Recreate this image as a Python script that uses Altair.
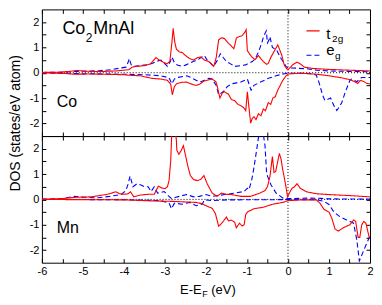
import altair as alt
import pandas as pd

FONT = "Liberation Sans"
W, H = 329, 127

X_TICKS = [-6 + 0.5 * i for i in range(17)]
Y_TICKS = [-2 + 0.5 * i for i in range(9)]

# ---------------- Co panel ----------------
CO_T2G_UP_X = [-6.0, -5.6, -5.35, -5.15, -5.0, -4.8, -4.5, -4.2, -4.0, -3.88, -3.8, -3.7, -3.5, -3.35, -3.22, -3.14, -3.05, -2.95, -2.88, -2.83, -2.8, -2.76, -2.72, -2.65, -2.58, -2.5, -2.4, -2.3, -2.2, -2.12, -2.04, -1.93, -1.81, -1.75, -1.69, -1.62, -1.55, -1.46, -1.38, -1.32, -1.28, -1.26, -1.2, -1.12, -1.05, -1.02, -0.99, -0.94, -0.88, -0.8, -0.72, -0.66, -0.6, -0.52, -0.48, -0.42, -0.37, -0.3, -0.25, -0.2, -0.15, -0.09, -0.03, 0.0, 0.05, 0.12, 0.22, 0.3, 0.4, 0.6, 1.0, 1.5, 2.0]
CO_T2G_UP_Y = [0.01, 0.02, 0.05, 0.09, 0.07, 0.05, 0.05, 0.07, 0.1, 0.12, 0.22, 0.25, 0.28, 0.35, 0.6, 0.5, 0.42, 0.35, 0.45, 1.2, 1.75, 1.2, 0.93, 0.82, 0.8, 0.68, 0.56, 0.5, 0.6, 0.62, 0.5, 0.44, 0.25, 0.6, 1.3, 1.38, 1.35, 1.18, 1.05, 0.95, 1.2, 1.37, 1.42, 1.46, 1.6, 1.7, 0.87, 0.75, 0.62, 0.52, 0.68, 0.55, 0.44, 0.33, 0.37, 0.6, 0.75, 0.95, 1.1, 0.9, 0.68, 0.3, 0.15, 0.12, 0.2, 0.32, 0.42, 0.35, 0.22, 0.17, 0.13, 0.1, 0.07]

CO_T2G_DN_X = [-6.0, -5.5, -5.2, -4.8, -4.5, -4.0, -3.87, -3.6, -3.33, -3.1, -2.94, -2.86, -2.82, -2.77, -2.72, -2.6, -2.47, -2.35, -2.24, -2.15, -2.05, -1.93, -1.85, -1.76, -1.73, -1.66, -1.6, -1.55, -1.45, -1.38, -1.3, -1.22, -1.15, -1.08, -1.03, -0.99, -0.95, -0.91, -0.87, -0.83, -0.78, -0.72, -0.66, -0.6, -0.55, -0.48, -0.42, -0.37, -0.31, -0.25, -0.19, -0.13, -0.06, 0.0, 0.3, 0.7, 1.0, 1.3, 1.5, 1.62, 1.7, 1.76, 1.85, 1.92, 2.0]
CO_T2G_DN_Y = [-0.01, -0.02, -0.06, -0.05, -0.06, -0.08, -0.1, -0.12, -0.22, -0.25, -0.3, -0.45, -0.87, -0.55, -0.44, -0.38, -0.37, -0.45, -0.5, -0.45, -0.33, -0.28, -0.25, -0.35, -0.5, -1.0, -0.8, -0.75, -0.85, -1.06, -1.1, -1.25, -1.3, -1.38, -1.5, -0.75, -1.4, -1.99, -1.8, -1.74, -1.85, -1.62, -1.7, -1.43, -1.5, -1.18, -1.25, -1.0, -0.95, -0.69, -0.5, -0.31, -0.15, -0.05, -0.02, -0.06, -0.12, -0.2, -0.27, -0.35, -0.43, -0.3, -0.35, -0.42, -0.44]

CO_EG_UP_X = [-6.0, -5.5, -5.2, -4.9, -4.6, -4.3, -4.1, -3.95, -3.9, -3.87, -3.82, -3.75, -3.6, -3.45, -3.3, -3.2, -3.1, -3.0, -2.94, -2.88, -2.83, -2.77, -2.7, -2.58, -2.5, -2.4, -2.3, -2.21, -2.12, -2.04, -1.97, -1.9, -1.81, -1.72, -1.65, -1.58, -1.5, -1.4, -1.3, -1.15, -1.03, -0.95, -0.87, -0.8, -0.76, -0.7, -0.64, -0.6, -0.56, -0.53, -0.5, -0.46, -0.44, -0.41, -0.38, -0.33, -0.29, -0.23, -0.17, -0.1, -0.05, 0.0, 0.2, 0.5, 0.7, 1.0, 1.5, 2.0]
CO_EG_UP_Y = [0.01, 0.02, 0.05, 0.06, 0.08, 0.12, 0.18, 0.22, 0.4, 0.56, 0.3, 0.25, 0.28, 0.31, 0.37, 0.45, 0.5, 0.35, 0.25, 0.4, 0.62, 0.4, 0.3, 0.25, 0.3, 0.37, 0.45, 0.5, 0.6, 0.68, 0.5, 0.4, 0.25, 0.5, 0.75, 0.6, 0.44, 0.35, 0.25, 0.28, 0.31, 0.38, 0.44, 0.55, 0.68, 0.9, 1.18, 1.4, 1.55, 1.65, 1.18, 1.3, 1.43, 1.2, 1.0, 0.95, 0.93, 0.75, 0.56, 0.4, 0.25, 0.19, 0.18, 0.15, 0.1, 0.07, 0.05, 0.04]

CO_EG_DN_X = [-6.0, -5.5, -5.0, -4.5, -4.0, -3.5, -3.1, -2.9, -2.83, -2.77, -2.7, -2.47, -2.35, -2.24, -2.15, -2.04, -1.93, -1.85, -1.75, -1.69, -1.58, -1.48, -1.38, -1.25, -1.15, -1.05, -0.99, -0.9, -0.83, -0.76, -0.64, -0.52, -0.4, -0.29, -0.15, -0.05, 0.0, 0.4, 0.6, 0.69, 0.76, 0.84, 0.9, 0.95, 1.04, 1.12, 1.19, 1.25, 1.31, 1.4, 1.51, 1.55, 1.62, 1.68, 1.74, 1.8, 1.9, 2.0]
CO_EG_DN_Y = [-0.01, -0.02, -0.04, -0.05, -0.06, -0.08, -0.12, -0.2, -0.44, -0.25, -0.19, -0.12, -0.2, -0.3, -0.37, -0.3, -0.22, -0.25, -0.5, -0.87, -0.75, -0.55, -0.44, -0.4, -0.37, -0.3, -0.25, -0.69, -0.5, -0.44, -0.35, -0.25, -0.18, -0.12, -0.06, -0.03, -0.02, -0.02, -0.04, -0.1, -0.4, -0.87, -1.1, -1.06, -1.0, -1.3, -1.49, -1.35, -1.19, -0.75, -0.3, -0.25, -0.3, -0.36, -0.25, -0.19, -0.19, -0.19]

# ---------------- Mn panel ----------------
MN_T2G_UP_X = [-6.0, -5.5, -5.2, -5.0, -4.8, -4.6, -4.4, -4.2, -4.1, -4.0, -3.9, -3.84, -3.76, -3.6, -3.4, -3.26, -3.2, -3.16, -3.08, -3.0, -2.94, -2.9, -2.86, -2.82, -2.76, -2.72, -2.71, -2.66, -2.6, -2.55, -2.5, -2.44, -2.38, -2.3, -2.2, -2.12, -2.05, -1.97, -1.9, -1.85, -1.73, -1.62, -1.5, -1.38, -1.15, -0.91, -0.68, -0.56, -0.5, -0.44, -0.38, -0.34, -0.3, -0.25, -0.21, -0.17, -0.13, -0.06, -0.01, 0.05, 0.1, 0.16, 0.22, 0.3, 0.45, 0.7, 1.0, 1.5, 2.0]
MN_T2G_UP_Y = [0.01, 0.03, 0.08, 0.09, 0.1, 0.15, 0.2, 0.3, 0.22, 0.2, 0.22, 0.3, 0.1, 0.17, 0.2, 0.2, 0.4, 0.52, 0.45, 0.42, 0.5, 0.74, 1.5, 3.2, 3.0, 2.3, 1.94, 1.78, 1.94, 2.12, 1.75, 1.3, 0.94, 0.78, 0.74, 0.8, 0.94, 0.62, 0.4, 0.25, 0.12, 0.25, 0.2, 0.19, 0.12, 0.12, 0.25, 0.35, 0.5, 0.9, 1.69, 1.06, 1.1, 1.5, 1.81, 1.6, 1.19, 0.6, 0.1, 0.3, 0.44, 0.5, 0.62, 0.44, 0.3, 0.22, 0.19, 0.15, 0.1]

MN_T2G_DN_X = [-6.0, -5.0, -4.0, -3.33, -2.8, -2.24, -2.1, -1.93, -1.85, -1.77, -1.69, -1.62, -1.58, -1.5, -1.45, -1.38, -1.3, -1.26, -1.18, -1.12, -1.07, -1.03, -0.99, -0.83, -0.6, -0.37, -0.13, 0.0, 0.3, 0.69, 0.78, 0.88, 1.0, 1.07, 1.15, 1.23, 1.35, 1.51, 1.6, 1.65, 1.71, 1.75, 1.8, 1.85, 1.9, 1.98, 2.0]
MN_T2G_DN_Y = [-0.005, -0.01, -0.02, -0.06, -0.08, -0.12, -0.17, -0.3, -0.35, -0.56, -1.06, -0.95, -0.87, -0.7, -0.85, -0.82, -0.9, -1.12, -0.94, -1.05, -1.0, -0.6, -0.5, -0.37, -0.31, -0.19, -0.12, -0.05, -0.02, -0.02, -0.15, -0.4, -0.5, -0.75, -1.18, -1.25, -1.12, -1.0, -0.81, -0.87, -1.5, -1.5, -1.0, -0.87, -0.94, -1.5, -1.5]

MN_EG_UP_X = [-6.0, -5.5, -5.2, -5.0, -4.66, -4.35, -4.07, -3.95, -3.9, -3.85, -3.78, -3.68, -3.57, -3.5, -3.41, -3.34, -3.26, -3.18, -3.1, -3.02, -2.92, -2.84, -2.7, -2.47, -2.3, -2.16, -2.0, -1.85, -1.54, -1.3, -1.07, -0.99, -0.95, -0.88, -0.83, -0.76, -0.72, -0.66, -0.62, -0.6, -0.56, -0.52, -0.47, -0.41, -0.29, -0.13, 0.0, 0.5, 0.8, 1.0, 2.0]
MN_EG_UP_Y = [0.01, 0.03, 0.12, 0.09, 0.06, 0.12, 0.19, 0.35, 0.6, 0.92, 0.5, 0.62, 0.56, 0.5, 0.5, 0.31, 0.5, 0.25, 0.27, 0.31, 0.15, 0.03, 0.1, 0.19, 0.1, 0.12, 0.19, 0.12, 0.19, 0.25, 0.31, 0.44, 0.38, 0.8, 1.25, 2.0, 2.45, 2.7, 2.6, 2.55, 2.12, 1.0, 0.8, 0.56, 0.25, 0.06, 0.03, 0.05, 0.04, 0.02, 0.01]

MN_EG_DN_X = [-6.0, -4.0, -3.1, -2.9, -2.84, -2.77, -2.58, -2.4, -2.24, -2.09, -2.04, -1.85, -1.5, 0.0, 0.69, 0.88, 1.0, 1.12, 1.27, 1.43, 1.55, 1.6, 1.68, 1.74, 1.8, 1.85, 1.95, 2.0]
MN_EG_DN_Y = [-0.005, -0.01, -0.05, -0.15, -0.37, -0.15, -0.19, -0.12, -0.25, -0.19, -0.02, -0.05, -0.02, -0.01, -0.01, -0.08, -0.2, -0.5, -0.69, -0.81, -0.9, -0.94, -1.62, -2.43, -2.2, -2.0, -1.62, -1.43]

ORBITALS = ["t2g", "eg"]
COLORS = ["#ff0000", "#0000ff"]


def series_df(pairs):
    rows = []
    for orb, spin, xs, ys in pairs:
        for i, (x, y) in enumerate(zip(xs, ys)):
            rows.append({"orb": orb, "spin": spin, "i": i, "x": x, "y": y})
    return pd.DataFrame(rows)


CO_DF = series_df([
    ("eg", "up", CO_EG_UP_X, CO_EG_UP_Y),
    ("eg", "dn", CO_EG_DN_X, CO_EG_DN_Y),
    ("t2g", "up", CO_T2G_UP_X, CO_T2G_UP_Y),
    ("t2g", "dn", CO_T2G_DN_X, CO_T2G_DN_Y),
])
MN_DF = series_df([
    ("eg", "up", MN_EG_UP_X, MN_EG_UP_Y),
    ("eg", "dn", MN_EG_DN_X, MN_EG_DN_Y),
    ("t2g", "up", MN_T2G_UP_X, MN_T2G_UP_Y),
    ("t2g", "dn", MN_T2G_DN_X, MN_T2G_DN_Y),
])

XS = alt.Scale(domain=[-6, 2], nice=False, zero=False)
YS = alt.Scale(domain=[-2.5, 2.5], nice=False, zero=False)


def axis(orient, values, labels):
    return alt.Axis(
        orient=orient, values=values, labels=labels,
        labelExpr="datum.value % 1 === 0 ? '' + datum.value : ''",
        title=None, domain=False, grid=False, ticks=True, tickSize=4,
        offset=-4, tickColor="black", tickWidth=1, labelFont=FONT,
        labelFontSize=11, labelColor="black", labelPadding=3,
        labelFlush=False, labelOverlap=False,
    )


def text_layer(xs, ys, texts, size, dx=0, dy=0, align="left", baseline="alphabetic"):
    df = pd.DataFrame({"x": xs, "y": ys, "t": texts})
    return alt.Chart(df).mark_text(
        font=FONT, fontSize=size, color="black", align=align,
        baseline=baseline, dx=dx, dy=dy,
    ).encode(
        x=alt.X("x:Q", scale=XS, axis=None),
        y=alt.Y("y:Q", scale=YS, axis=None),
        text="t:N",
    )


def panel(df, bottom_labels, extra):
    zero = pd.DataFrame({"v": [0.0]})
    hline = alt.Chart(zero).mark_rule(color="black", strokeDash=[1, 2], strokeWidth=1).encode(
        y=alt.Y("v:Q", scale=YS, axis=axis("right", Y_TICKS, False))
    )
    vline = alt.Chart(zero).mark_rule(color="black", strokeDash=[1, 2], strokeWidth=1).encode(
        x=alt.X("v:Q", scale=XS, axis=axis("top", X_TICKS, False))
    )
    lines = alt.Chart(df).mark_line(clip=True, strokeWidth=1.1).encode(
        x=alt.X("x:Q", scale=XS, axis=axis("bottom", X_TICKS, bottom_labels)),
        y=alt.Y("y:Q", scale=YS, axis=axis("left", Y_TICKS, True)),
        color=alt.Color("orb:N", scale=alt.Scale(domain=ORBITALS, range=COLORS), legend=None),
        strokeDash=alt.StrokeDash("orb:N", scale=alt.Scale(domain=ORBITALS, range=[[1, 0], [5, 3]]), legend=None),
        detail="spin:N",
        order="i:Q",
    )
    return alt.layer(hline, vline, lines, *extra).resolve_axis(
        x="independent", y="independent"
    ).properties(width=W, height=H)


# legend (drawn inside the Co panel)
LEG = pd.DataFrame({"x": [0.45, 0.45], "x2": [0.77, 0.77], "y": [1.65, 0.69], "orb": ORBITALS})
legend_lines = alt.Chart(LEG).mark_rule(strokeWidth=1.2).encode(
    x=alt.X("x:Q", scale=XS, axis=None), x2="x2:Q",
    y=alt.Y("y:Q", scale=YS, axis=None),
    color=alt.Color("orb:N", scale=alt.Scale(domain=ORBITALS, range=COLORS), legend=None),
    strokeDash=alt.StrokeDash("orb:N", scale=alt.Scale(domain=ORBITALS, range=[[1, 0], [5, 3]]), legend=None),
)

top_extra = [
    legend_lines,
    text_layer([0.93], [1.32], ["t"], 15),
    text_layer([0.93], [1.32], ["2g"], 10, dx=6, dy=3),
    text_layer([0.93], [0.69], ["e"], 15),
    text_layer([0.93], [0.69], ["g"], 10, dx=9, dy=4),
    text_layer([-5.5], [1.53], ["Co"], 18),
    text_layer([-5.5], [1.53], ["2"], 12, dx=23.5, dy=8),
    text_layer([-5.5], [1.53], ["MnAl"], 18, dx=31),
    text_layer([-5.64], [-1.37], ["Co"], 16),
    # y-axis title spanning both panels
    alt.Chart(pd.DataFrame({"y": [-2.0], "t": ["DOS (states/eV atom)"]})).mark_text(
        font=FONT, fontSize=14, color="black", angle=270, align="center", baseline="middle"
    ).encode(x=alt.value(-26), y=alt.Y("y:Q", scale=YS, axis=None), text="t:N"),
]

XT = pd.DataFrame({"x": [-1.95]})


def xtitle(text, size, dx, dy):
    return alt.Chart(pd.DataFrame({"x": [-1.95], "t": [text]})).mark_text(
        font=FONT, fontSize=size, color="black", align="left", baseline="alphabetic", dx=dx, dy=dy
    ).encode(x=alt.X("x:Q", scale=XS, axis=None), y=alt.value(H + 31), text="t:N")


bottom_extra = [
    text_layer([-5.64], [-1.31], ["Mn"], 16),
    xtitle("E-E", 13, -28, 0),
    xtitle("F", 9, -5.8, 3),
    xtitle("(eV)", 13, 3.3, 0),
]

top = panel(CO_DF, False, top_extra)
bottom = panel(MN_DF, True, bottom_extra)

chart = alt.vconcat(top, bottom, spacing=0, bounds="flush", padding=0).configure_view(
    stroke="black", strokeWidth=1
)

chart.save("out.html", embed_options={"renderer": "svg", "actions": False})
